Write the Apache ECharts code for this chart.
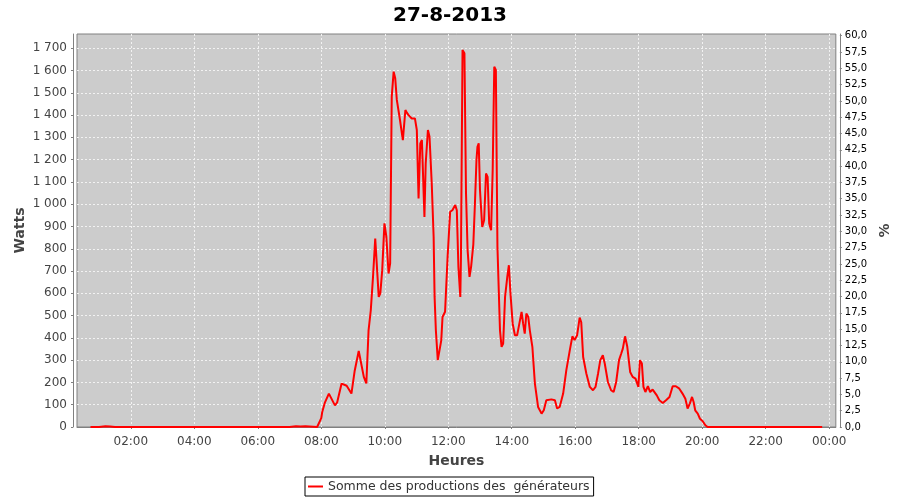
<!DOCTYPE html>
<html>
<head>
<meta charset="utf-8">
<script src="https://cdn.jsdelivr.net/npm/echarts@6/dist/echarts.min.js"></script>
<style>html,body{margin:0;padding:0;background:#fff}#c{width:900px;height:500px}</style>
</head>
<body>
<div id="c"></div>
<script>
// time of day in hours
const hours = [0.73,1.0,1.2,1.35,1.5,2.0,3.0,4.0,5.0,6.0,7.0,7.2,7.35,7.5,7.87,
  8.0,8.03,8.11,8.24,8.43,8.5,8.64,8.80,8.95,9.05,9.18,9.34,9.42,9.49,9.56,9.63,9.70,9.74,9.81,9.86,9.92,9.99,
  10.05,10.12,10.17,10.22,10.28,10.33,10.38,10.48,10.57,10.65,10.70,10.75,10.80,10.85,10.95,11.01,
  11.065,11.12,11.17,11.25,11.29,11.36,11.41,11.48,11.54,11.57,11.61,11.67,11.71,11.78,11.82,11.90,11.98,
  12.06,12.13,12.22,12.27,12.32,12.38,12.40,12.45,12.51,12.56,12.61,12.67,12.72,12.79,12.84,12.89,12.92,12.96,
  13.00,13.07,13.13,13.19,13.24,13.29,13.35,13.40,13.45,13.50,13.55,13.63,13.68,13.73,13.79,13.86,13.91,13.96,
  14.03,14.10,14.17,14.24,14.31,14.36,14.41,14.46,14.52,14.57,14.65,14.73,14.83,14.94,
  15.01,15.09,15.25,15.36,15.43,15.51,15.62,15.72,15.83,15.91,15.98,
  16.06,16.14,16.19,16.25,16.35,16.46,16.56,16.64,16.72,16.79,16.87,16.93,
  17.03,17.13,17.21,17.29,17.38,17.45,17.50,17.57,17.64,17.73,17.81,17.90,17.99,
  18.04,18.10,18.15,18.21,18.29,18.36,18.44,18.50,18.57,18.65,18.76,18.86,18.97,
  19.07,19.17,19.28,19.38,19.47,19.54,19.61,19.68,19.73,19.78,19.86,19.93,
  20.01,20.10,20.17,20.5,21.0,21.5,22.0,22.5,23.0,23.5,23.78];
// production in watts
const watts = [0,0,3,2,0,0,0,0,0,0,0,3,2,3,0,
  40,67,108,150,97,110,195,185,150,250,341,225,196,434,524,674,846,840,584,600,704,914,
  854,689,735,1483,1595,1565,1468,1378,1288,1423,1410,1400,1400,1385,1385,1333,
  1026,1273,1288,943,1183,1333,1303,1093,853,584,434,300,300,389,494,517,764,
  966,973,996,973,719,584,754,1692,1678,1048,794,674,719,820,1000,1200,1258,1273,
  1063,898,928,1138,1123,913,883,1153,1617,1603,808,434,360,375,584,674,726,600,
  464,412,412,464,517,464,419,509,494,434,360,195,90,60,
  75,120,124,120,83,90,150,255,345,407,390,
  412,491,470,314,240,180,165,180,240,300,322,285,
  202,165,157,202,300,330,352,407,360,247,225,217,180,
  300,285,180,157,183,157,168,165,142,120,108,120,135,
  183,183,172,150,127,83,105,135,112,75,60,37,
  27,8,0,0,0,0,0,0,0,0,0];
const xTicks = [2,4,6,8,10,12,14,16,18,20,22,24];
const wattTicks = [0,100,200,300,400,500,600,700,800,900,1000,1100,1200,1300,1400,1500,1600,1700];
const pctTicks = [0,2.5,5,7.5,10,12.5,15,17.5,20,22.5,25,27.5,30,32.5,35,37.5,40,42.5,45,47.5,50,52.5,55,57.5,60];

const FONT = 'DejaVu Sans';
const chart = echarts.init(document.getElementById('c'), null, {renderer:'canvas'});
const gridLine = {show:true, lineStyle:{color:'#f2f2f2', width:1, type:[2,2]}};
const axisLine = {show:true, lineStyle:{color:'#808080', width:1}};
const tick = {show:true, length:2, lineStyle:{color:'#808080'}};
chart.setOption({
  animation:false,
  title:{text:'27-8-2013', left:'center', top:1,
    textStyle:{fontFamily:FONT, fontSize:20, fontWeight:'bold', color:'#000'}},
  grid:{left:77, right:61, top:34, bottom:73, show:true, backgroundColor:'#cccccc',
    borderColor:'#808080', borderWidth:1, containLabel:false},
  legend:{left:305, top:477, data:['Somme des productions des  générateurs'],
    borderColor:'#000', borderWidth:1, borderRadius:0, padding:[3,4,3,3],
    itemWidth:15, itemHeight:2, icon:'rect',
    textStyle:{fontFamily:FONT, fontSize:12.5, color:'#333'}},
  xAxis:{type:'value', min:0.305, max:24.21, offset:4,
    name:'Heures', nameLocation:'middle', nameGap:23,
    nameTextStyle:{fontFamily:FONT, fontSize:14, fontWeight:'bold', color:'#444'},
    axisLine:axisLine,
    axisTick:Object.assign({customValues:xTicks}, tick),
    axisLabel:{customValues:xTicks, margin:5, fontFamily:FONT, fontSize:12, color:'#444',
      formatter:v=>String(Math.round(v)%24).padStart(2,'0')+':00'},
    splitLine:gridLine},
  yAxis:[
    {type:'value', min:0, max:1764, offset:4, position:'left',
      name:'Watts', nameLocation:'middle', nameGap:46, nameRotate:90, nameMoveOverlap:false,
      nameTextStyle:{fontFamily:FONT, fontSize:14, fontWeight:'bold', color:'#444'},
      axisLine:axisLine,
      axisTick:Object.assign({customValues:wattTicks}, tick),
      axisLabel:{customValues:wattTicks, margin:6, fontFamily:FONT, fontSize:12, color:'#444',
        formatter:v=>{const s=String(Math.round(v));return s.length>3?s.slice(0,-3)+'\u00a0'+s.slice(-3):s;}},
      splitLine:gridLine},
    {type:'value', min:0, max:60.26, offset:4, position:'right',
      name:'%', nameLocation:'middle', nameGap:35, nameRotate:90,
      nameTextStyle:{fontFamily:FONT, fontSize:14, fontWeight:'bold', color:'#444'},
      axisLine:axisLine,
      axisTick:Object.assign({customValues:pctTicks}, tick),
      axisLabel:{customValues:pctTicks, margin:5, fontFamily:FONT, fontSize:10, color:'#000',
        formatter:v=>v.toFixed(1).replace('.',',')},
      splitLine:{show:false}}
  ],
  series:[{name:'Somme des productions des  générateurs', type:'line', yAxisIndex:0,
    data:hours.map((h,i)=>[h,watts[i]]), showSymbol:false, symbol:'none',
    lineStyle:{color:'#ff0000', width:2}, itemStyle:{color:'#ff0000'}}]
});
</script>
</body>
</html>
